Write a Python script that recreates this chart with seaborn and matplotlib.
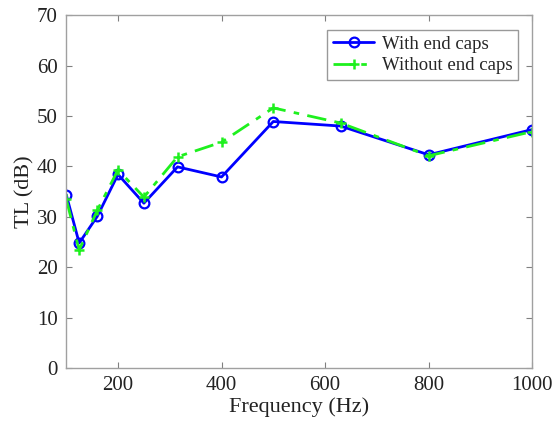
import pandas as pd
import matplotlib.pyplot as plt
import seaborn as sns

freq = [100, 125, 160, 200, 250, 315, 400, 500, 630, 800, 1000]
with_caps = [34.4, 24.8, 30.1, 38.4, 32.7, 39.9, 37.9, 48.9, 48.0, 42.3, 47.3]
without_caps = [33.5, 23.4, 31.3, 39.3, 33.9, 41.9, 44.8, 51.6, 48.6, 42.1, 46.9]

df = pd.DataFrame({'freq': freq, 'with': with_caps, 'without': without_caps})

sns.set_style('white')
plt.rcParams['font.family'] = ['Liberation Serif', 'DejaVu Serif']

fig = plt.figure(figsize=(5.52, 4.32), dpi=100)
ax = fig.add_axes([0.12, 0.148, 0.844, 0.817])

sns.lineplot(data=df, x='freq', y='with', ax=ax, color='#0000ff', lw=2,
             marker='o', markersize=7, markerfacecolor='none',
             markeredgecolor='#0000ff', markeredgewidth=1.6,
             label='With end caps')
sns.lineplot(data=df, x='freq', y='without', ax=ax, color='#1ef01e', lw=2,
             linestyle='-.', marker='+', markersize=7, markeredgewidth=1.8,
             markeredgecolor='#1ef01e', dashes=False,
             label='Without end caps')
ax.lines[1].set_dashes([7, 3, 2, 3])

ax.set_xlim(100, 1000)
ax.set_ylim(0, 70)
ax.set_xticks([200, 400, 600, 800, 1000])
ax.set_yticks(range(0, 71, 10))
ax.tick_params(direction='in', labelsize=15, length=4, color='#808080',
               labelcolor='#222222', pad=6, bottom=True, left=True,
               top=True, right=True)
for s in ax.spines.values():
    s.set_color('#a0a0a0')
    s.set_linewidth(1)
ax.set_xlabel('Frequency (Hz)', fontsize=16, color='#222222', labelpad=1)
ax.set_ylabel('TL (dB)', fontsize=16, color='#222222', labelpad=2)

leg = ax.legend(loc='upper right', fontsize=13.5, frameon=True, fancybox=False,
                edgecolor='#808080', handlelength=2.2, borderpad=0.3,
                labelspacing=0.25, handletextpad=0.4,
                bbox_to_anchor=(0.99, 0.985))
leg.get_frame().set_linewidth(1)
leg.legend_handles[1].set_dashes([7, 3, 2, 3])

fig.savefig('out.png', dpi=100)
